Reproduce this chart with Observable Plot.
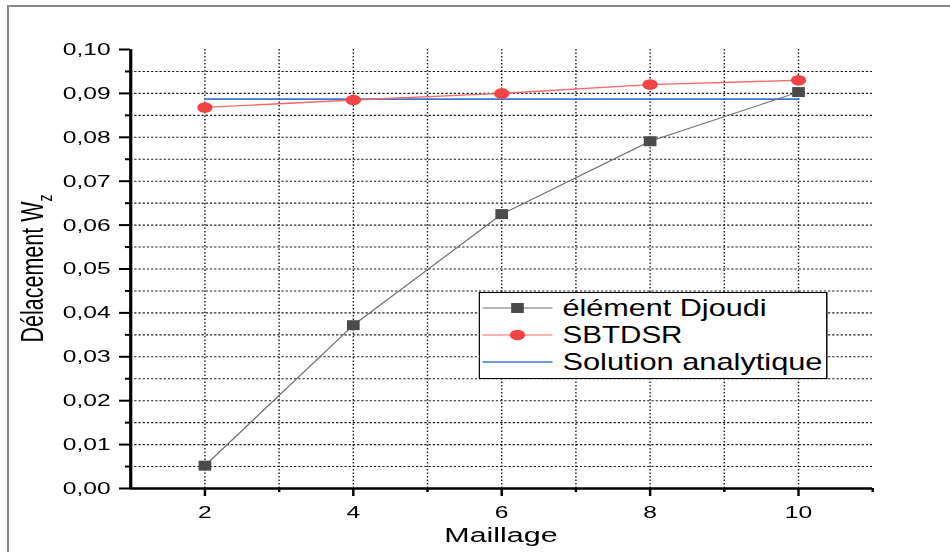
<!DOCTYPE html>
<html>
<head>
<meta charset="utf-8">
<script src="https://cdn.jsdelivr.net/npm/d3@7"></script>
<script src="https://cdn.jsdelivr.net/npm/@observablehq/plot@0.6"></script>
<style>
html,body{margin:0;padding:0;background:#fff;width:950px;height:552px;overflow:hidden;font-family:"Liberation Sans",Arial,sans-serif}
#wrap{position:absolute;left:0;top:0;width:655.17px;height:552px;transform:scaleX(1.45);transform-origin:0 0}
#chart{position:absolute;left:0;top:0}
#legend{position:absolute;overflow:visible}
#frame{position:absolute;left:7px;top:5px;width:1000px;height:600px;border:2px solid #8a8a8a;box-sizing:border-box;pointer-events:none}
</style>
</head>
<body>
<div id="wrap"><div id="chart"></div><svg id="legend"></svg></div>
<div id="frame"></div>
<script>
// ---- data ----
const maillage   = [2, 4, 6, 8, 10];
const djoudi     = [0.0052, 0.0372, 0.0625, 0.0791, 0.0903];
const sbtdsr     = [0.0868, 0.0885, 0.0900, 0.0920, 0.0930];
const analytique = [0.0887, 0.0887, 0.0887, 0.0887, 0.0887];
const seriesNames = ["élément Djoudi", "SBTDSR", "Solution analytique"];
const xMajor = [2, 4, 6, 8, 10];
const xMinor = [3, 5, 7, 9, 11];
const xGrid  = [2, 3, 4, 5, 6, 7, 8, 9, 10];
const yMajor = [0, 0.01, 0.02, 0.03, 0.04, 0.05, 0.06, 0.07, 0.08, 0.09, 0.10];
const yMinor = [0.005, 0.015, 0.025, 0.035, 0.045, 0.055, 0.065, 0.075, 0.085, 0.095];
const yGrid  = [0.005, 0.01, 0.015, 0.02, 0.025, 0.03, 0.035, 0.04, 0.045, 0.05,
                0.055, 0.06, 0.065, 0.07, 0.075, 0.08, 0.085, 0.09, 0.095];
const xLabel = "Maillage";
const yLabel = "Délacement W";
const yLabelSub = "z";

// ---- layout ----
const K = 1.45;           // horizontal stretch of the reference
const W = 950 / K;
const colDj = "#4b4b4b", lineDj = "#707070";
const colSb = "#f24444", lineSb = "#f26a6a";
const colAn = "#3f74d0";
const legendTextWidths = [204, 120, 260]; // on-screen widths of the legend texts

const rows = maillage.map((m, i) => ({m, djoudi: djoudi[i], sbtdsr: sbtdsr[i], analytique: analytique[i]}));
const fmt = d => d.toFixed(2).replace(".", ",");

const rectSym = {
  draw(context, size) {
    const r = Math.sqrt(size / Math.PI);
    const w = r * 0.876, h = r;
    context.rect(-w, -h, 2 * w, 2 * h);
  }
};

const chart = Plot.plot({
  width: W,
  height: 552,
  marginLeft: 130 / K,
  marginRight: (950 - 872) / K,
  marginTop: 49,
  marginBottom: 64,
  x: {domain: [1, 11]},
  y: {domain: [0, 0.1]},
  style: {fontFamily: '"Liberation Sans", Arial, sans-serif', fontSize: "17px", color: "#000", background: "transparent", overflow: "visible"},
  marks: [
    Plot.ruleX(xGrid, {stroke: "#222", strokeWidth: 1, strokeDasharray: "1.5 2"}),
    Plot.ruleY(yGrid, {stroke: "#222", strokeWidth: 1.1, strokeDasharray: "1.6 1.3"}),
    Plot.line(rows, {x: "m", y: "analytique", stroke: colAn, strokeWidth: 1.6}),
    Plot.line(rows, {x: "m", y: "djoudi", stroke: lineDj, strokeWidth: 1}),
    Plot.line(rows, {x: "m", y: "sbtdsr", stroke: lineSb, strokeWidth: 1.3}),
    Plot.dot(rows, {x: "m", y: "djoudi", symbol: rectSym, r: 5, fill: colDj, stroke: "none"}),
    Plot.dot(rows, {x: "m", y: "sbtdsr", symbol: "circle", r: 5.3, fill: colSb, stroke: "none"}),
    Plot.ruleX([1], {stroke: "#000", strokeWidth: 2.2}),
    Plot.ruleY([0], {stroke: "#000", strokeWidth: 2.6}),
    Plot.axisY({ticks: yMajor, tickSize: 7.6, tickPadding: 6.2, tickFormat: fmt, strokeWidth: 2, fontSize: 17, label: null}),
    Plot.axisY({ticks: yMinor, tickSize: 3.5, tickFormat: () => "", strokeWidth: 2, label: null}),
    Plot.axisX({ticks: xMajor, tickSize: 8, tickPadding: 9, tickFormat: d => String(d), strokeWidth: 1.7, fontSize: 17, label: null}),
    Plot.axisX({ticks: xMinor, tickSize: 4, tickFormat: () => "", strokeWidth: 1.7, label: null})
  ]
});
document.getElementById("chart").appendChild(chart);

// axis titles
const svg = d3.select(chart);
svg.append("text")
  .attr("x", ((130 + 872) / 2) / K)
  .attr("y", 542)
  .attr("text-anchor", "middle")
  .attr("font-size", 21)
  .attr("fill", "#000")
  .text(xLabel);
const yl = svg.append("text")
  .attr("transform", `translate(${29.7},${268.5}) rotate(-90)`)
  .attr("text-anchor", "middle")
  .attr("font-size", 21.5)
  .attr("fill", "#000");
yl.append("tspan").text(yLabel);
yl.append("tspan").attr("font-size", 14).attr("dy", 6).text(yLabelSub);

// legend
const lg = d3.select("#legend")
  .style("left", (478 / K) + "px")
  .style("top", "292px")
  .attr("width", (827 - 478) / K)
  .attr("height", 87);
const LW = (827 - 478) / K;
lg.append("rect").attr("x", 0.5).attr("y", 0.5).attr("width", LW - 1).attr("height", 86)
  .attr("fill", "#fff").attr("stroke", "#000").attr("stroke-width", 1);
const rowY = [16, 43, 70];
const lineCols = [lineDj, lineSb, colAn];
const sx0 = (482 - 478) / K, sx1 = (552 - 478) / K, smx = (517 - 478) / K, tx = (562 - 478) / K;
seriesNames.forEach((name, i) => {
  const y = rowY[i];
  lg.append("line").attr("x1", sx0).attr("x2", sx1).attr("y1", y).attr("y2", y)
    .attr("stroke", lineCols[i]).attr("stroke-width", i === 2 ? 1.4 : 1.1);
  if (i === 0) {
    lg.append("rect").attr("x", smx - 4.38).attr("y", y - 5).attr("width", 8.76).attr("height", 10).attr("fill", colDj);
  } else if (i === 1) {
    lg.append("circle").attr("cx", smx).attr("cy", y).attr("r", 5.3).attr("fill", colSb);
  }
  lg.append("text").attr("x", tx).attr("y", y + 8.3)
    .attr("font-family", '"Liberation Sans", Arial, sans-serif')
    .attr("font-size", 23)
    .attr("textLength", legendTextWidths[i] / K)
    .attr("lengthAdjust", "spacingAndGlyphs")
    .attr("fill", "#000").text(name);
});
</script>
</body>
</html>
